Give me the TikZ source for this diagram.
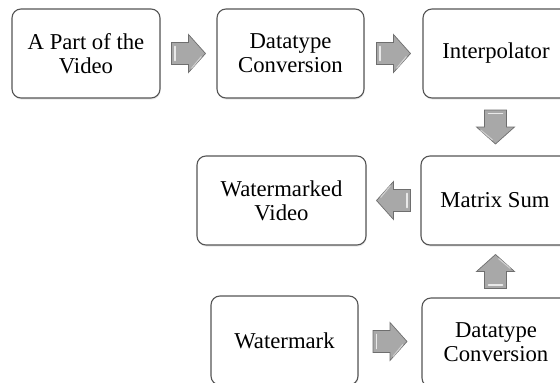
\documentclass[tikz,border=0pt]{standalone}
\usepackage{fontspec}
\setmainfont{Liberation Serif}
\usetikzlibrary{calc,shadows}
\definecolor{boxline}{HTML}{555555}
\definecolor{arrfill}{HTML}{A8A8A8}
\definecolor{arrline}{HTML}{6E6E6E}
\tikzset{
  stepbox/.style={draw=boxline, line width=1.1pt, rounded corners=9pt, fill=white,
    minimum height=89pt, align=center, inner sep=2pt,
    font=\fontsize{22.7}{24}\selectfont,
    drop shadow={opacity=0.18, shadow xshift=0.6pt, shadow yshift=-1.6pt}},
  arrowstyle/.style={fill=arrfill, draw=arrline, line width=0.7pt, line join=miter},
  highlight/.style={draw=white, opacity=0.75, line width=1.6pt, line cap=round},
  blockarrow/.pic={
    \path[arrowstyle] (-17,-11) -- (0,-11) -- (0,-19) -- (17,0) -- (0,19) -- (0,11) -- (-17,11) -- cycle;
    \draw[highlight] (-13.5,-7) -- (-13.5,7);
    \draw[draw=white, opacity=0.5, line width=1.2pt] (3,15) -- (13,3);
  }
}
\begin{document}
\begin{tikzpicture}[x=1pt,y=-1pt]
\useasboundingbox (0,0) rectangle (560,383);
\clip (0,0) rectangle (560,383);
\node[stepbox, minimum width=148pt] (b1) at (86,53.5) {A Part of the\\Video};
\node[stepbox, minimum width=147pt] (b2) at (290.5,53.5) {Datatype\\Conversion};
\node[stepbox, minimum width=146pt] (b3) at (496,53.5) {Interpolator};
\node[stepbox, minimum width=148pt] (m) at (495,200.5) {Matrix Sum};
\node[stepbox, minimum width=169pt] (wv) at (281.5,200.5) {Watermarked\\Video};
\node[stepbox, minimum width=147pt] (w) at (284.5,340.5) {Watermark};
\node[stepbox, minimum width=148pt] (dc) at (496,342.5) {Datatype\\Conversion};
\path ($(b1.east)!0.5!(b2.west)$) pic {blockarrow};
\path ($(b2.east)!0.5!(b3.west)$) pic {blockarrow};
\path ($(b3.south)!0.5!(m.north)$) pic[rotate=-90] {blockarrow};
\path ($(m.west)!0.5!(wv.east)$) pic[rotate=180] {blockarrow};
\path ($(dc.north)!0.5!(m.south)$) pic[rotate=90] {blockarrow};
\path ($(w.east)!0.5!(dc.west)$) pic {blockarrow};
\end{tikzpicture}
\end{document}
